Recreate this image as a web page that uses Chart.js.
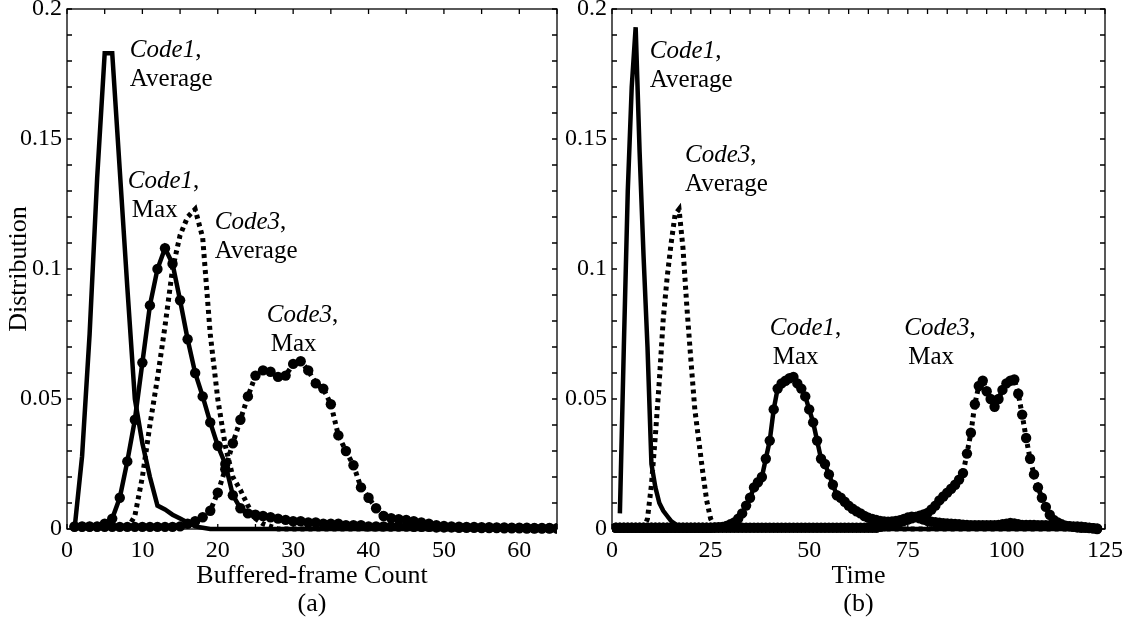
<!DOCTYPE html>
<html>
<head>
<meta charset="utf-8">
<script src="https://cdn.jsdelivr.net/npm/chart.js@4.4.0/dist/chart.umd.min.js"></script>
<style>
body { margin:0; background:#fff; }
#wrap { position:relative; width:1129px; height:621px; overflow:hidden; }
canvas { position:absolute; top:0; }
#cA { left:0; }
#cB { left:565px; }
</style>
</head>
<body>
<div id="wrap">
<canvas id="cA" width="565" height="621"></canvas>
<canvas id="cB" width="564" height="621"></canvas>
</div>
<script>
const FONT = '"Liberation Serif", "Times New Roman", serif';

// (a) buffered-frame count, x = 0..65
const xA = [0,1,2,3,4,5,6,7,8,9,
  10,11,12,13,14,15,16,17,18,19,
  20,21,22,23,24,25,26,27,28,29,
  30,31,32,33,34,35,36,37,38,39,
  40,41,42,43,44,45,46,47,48,49,
  50,51,52,53,54,55,56,57,58,59,
  60,61,62,63,64,65];

const code1AvgA = [null,0,0.028,0.075,0.135,0.183,0.183,0.138,0.093,0.05,
  0.033,0.02,0.009,0.0075,0.0055,0.004,0.0025,0.001,0.0005,0,
  0,0,0,0,0,0,0,0,0,0,
  0,0,0,0,0,0,0,0,0,0,
  0,0,0,0,0,0,0,0,0,0,
  0,0,0,0,0,0,0,0,0,0,
  0,0,0,0,0,0];

const code1MaxA = [null,0.001,0.001,0.001,0.001,0.002,0.004,0.012,0.026,0.042,
  0.064,0.086,0.1,0.108,0.102,0.088,0.073,0.06,0.051,0.041,
  0.032,0.025,0.013,0.008,0.006,0.0055,0.005,0.0045,0.004,0.0035,
  0.003,0.003,0.0025,0.0025,0.002,0.002,0.002,0.0015,0.0015,0.0015,
  0.001,0.001,0.001,0.001,0.001,0.001,0.0008,0.0008,0.0008,0.0006,
  0.0006,0.0006,0.0005,0.0005,0.0005,0.0004,0.0004,0.0004,0.0003,0.0003,
  0.0003,0.0002,0.0002,0.0002,0.0002,0.0002];

const code3AvgA = [null,null,null,null,null,null,null,null,0,0.005,
  0.02,0.04,0.058,0.078,0.1,0.113,0.12,0.123,0.112,0.075,
  0.05,0.032,0.02,0.015,0.009,0.004,0.002,0.001,0,0,
  0,0,0,0,0,0,0,0,0,0,
  0,0,0,0,0,0,0,0,0,0,
  0,0,0,0,0,0,0,0,0,0,
  0,0,0,0,0,0];

const code3MaxA = [null,0.0008,0.0008,0.0008,0.0008,0.0008,0.0008,0.0008,0.0008,0.0008,
  0.0008,0.0008,0.0008,0.0008,0.0008,0.001,0.002,0.003,0.0045,0.007,
  0.014,0.023,0.033,0.042,0.051,0.059,0.061,0.0605,0.0585,0.059,
  0.0635,0.0645,0.061,0.056,0.054,0.048,0.036,0.03,0.0245,0.016,
  0.012,0.008,0.005,0.0042,0.0038,0.0035,0.003,0.0025,0.002,0.0015,
  0.0012,0.001,0.0009,0.0008,0.0008,0.0007,0.0007,0.0006,0.0006,0.0005,
  0.0005,0.0005,0.0004,0.0004,0.0004,0.0003];

// (b) time, x = 0..123
const xB = [0,1,2,3,4,5,6,7,8,9,
  10,11,12,13,14,15,16,17,18,19,
  20,21,22,23,24,25,26,27,28,29,
  30,31,32,33,34,35,36,37,38,39,
  40,41,42,43,44,45,46,47,48,49,
  50,51,52,53,54,55,56,57,58,59,
  60,61,62,63,64,65,66,67,68,69,
  70,71,72,73,74,75,76,77,78,79,
  80,81,82,83,84,85,86,87,88,89,
  90,91,92,93,94,95,96,97,98,99,
  100,101,102,103,104,105,106,107,108,109,
  110,111,112,113,114,115,116,117,118,119,
  120,121,122,123];

const code1AvgB = [null,null,0.006,0.07,0.13,0.17,0.193,0.145,0.105,0.07,
  0.025,0.016,0.01,0.007,0.005,0.003,0.002,0.001,0,0,
  0,0,0,0,0,0,0,0,0,0,
  0,0,0,0,0,0,0,0,0,0,
  0,0,0,0,0,0,0,0,0,0,
  0,0,0,0,0,0,0,0,0,0,
  0,0,0,0,0,0,0,0,0,0,
  0,0,0,0,0,0,0,0,0,0,
  0,0,0,0,0,0,0,0,0,0,
  0,0,0,0,0,0,0,0,0,0,
  0,0,0,0,0,0,0,0,0,0,
  0,0,0,0,0,0,0,0,0,0,
  0,0,0,0];

const code3AvgB = [null,null,null,null,null,null,null,null,0,0.004,
  0.017,0.036,0.057,0.081,0.097,0.11,0.121,0.123,0.108,0.085,
  0.065,0.046,0.034,0.022,0.011,0.004,0.001,0,0,0,
  0,0,0,0,0,0,0,0,0,0,
  0,0,0,0,0,0,0,0,0,0,
  0,0,0,0,0,0,0,0,0,0,
  0,0,0,0,0,0,0,0,0,0,
  0,0,0,0,0,0,0,0,0,0,
  0,0,0,0,0,0,0,0,0,0,
  0,0,0,0,0,0,0,0,0,0,
  0,0,0,0,0,0,0,0,0,0,
  0,0,0,0,0,0,0,0,0,0,
  0,0,0,0];

const code1MaxB = [null,0.0005,0.0005,0.0005,0.0005,0.0005,0.0005,0.0005,0.0005,0.0005,
  0.0005,0.0005,0.0005,0.0005,0.0005,0.0005,0.0005,0.0005,0.0005,0.0005,
  0.0005,0.0005,0.0005,0.0005,0.0005,0.0005,0.0006,0.0007,0.0008,0.0012,
  0.0018,0.0025,0.004,0.006,0.009,0.012,0.016,0.018,0.02,0.027,
  0.034,0.046,0.054,0.056,0.057,0.058,0.0585,0.056,0.054,0.051,
  0.046,0.041,0.034,0.027,0.025,0.021,0.017,0.013,0.012,0.0105,
  0.009,0.0078,0.0068,0.006,0.005,0.0043,0.0039,0.0035,0.0031,0.0029,
  0.0028,0.0029,0.0031,0.0034,0.0039,0.0044,0.0047,0.0046,0.0041,0.0036,
  0.0031,0.0028,0.0026,0.0024,0.0022,0.0021,0.002,0.0019,0.0018,0.0017,
  0.0016,0.0015,0.0015,0.0015,0.0015,0.0015,0.0015,0.0015,0.0016,0.0018,
  0.002,0.0023,0.0021,0.0018,0.0016,0.0016,0.0016,0.0016,0.0015,0.0015,
  0.0015,0.0014,0.0013,0.0012,0.0012,0.0011,0.0011,0.001,0.001,0.0009,
  0.0007,0.0005,0.0003,0];

const code3MaxB = [null,0.0005,0.0005,0.0005,0.0005,0.0005,0.0005,0.0005,0.0005,0.0005,
  0.0005,0.0005,0.0005,0.0005,0.0005,0.0005,0.0005,0.0005,0.0005,0.0005,
  0.0005,0.0005,0.0005,0.0005,0.0005,0.0005,0.0005,0.0005,0.0005,0.0005,
  0.0005,0.0005,0.0005,0.0005,0.0005,0.0005,0.0005,0.0005,0.0005,0.0005,
  0.0005,0.0005,0.0005,0.0005,0.0005,0.0005,0.0005,0.0005,0.0005,0.0005,
  0.0005,0.0005,0.0005,0.0005,0.0005,0.0005,0.0005,0.0005,0.0005,0.0005,
  0.0005,0.0005,0.0005,0.0005,0.0005,0.0005,0.0005,0.0005,0.0008,0.001,
  0.0013,0.0017,0.0021,0.0026,0.0031,0.0036,0.0041,0.0046,0.0051,0.0056,
  0.0062,0.0075,0.009,0.011,0.0125,0.014,0.0155,0.017,0.019,0.0215,
  0.029,0.037,0.048,0.055,0.057,0.053,0.05,0.047,0.05,0.0535,
  0.056,0.057,0.0575,0.052,0.044,0.035,0.027,0.021,0.016,0.012,
  0.0085,0.0055,0.0035,0.0025,0.0018,0.0013,0.001,0.0008,0.0006,0.0005,
  0.0005,0.0004,0.0003,0.0002];

const yTicksMax = 0.2;

// labels placed next to the curves, in data units
const notesA = [
  { x: 8.34, y: 0.1842, code: 'Code1', kind: 'Average' },
  { x: 8.07, y: 0.1335, code: 'Code1', kind: 'Max', indent: 4 },
  { x: 19.6, y: 0.118, code: 'Code3', kind: 'Average' },
  { x: 26.5, y: 0.0823, code: 'Code3', kind: 'Max', indent: 4 }
];
const notesB = [
  { x: 9.6, y: 0.1835, code: 'Code1', kind: 'Average' },
  { x: 18.5, y: 0.1438, code: 'Code3', kind: 'Average' },
  { x: 40, y: 0.0773, code: 'Code1', kind: 'Max', indent: 3 },
  { x: 74.1, y: 0.0773, code: 'Code3', kind: 'Max', indent: 4 }
];

const framePlugin = {
  id: 'frame',
  afterDraw(chart, args, opts) {
    const { ctx, chartArea: a } = chart;
    const sx = chart.scales.x, sy = chart.scales.y;
    ctx.save();
    ctx.strokeStyle = '#000';
    ctx.lineWidth = 1.3;
    ctx.beginPath();
    for (let i = 0; i * 5 <= sx.max; i++) {
      const px = sx.getPixelForValue(i * 5);
      ctx.moveTo(px, a.bottom); ctx.lineTo(px, a.bottom - 5);
      ctx.moveTo(px, a.top); ctx.lineTo(px, a.top + 5);
    }
    for (let i = 0; i <= 20; i++) {
      const py = sy.getPixelForValue(i * 0.01);
      ctx.moveTo(a.left, py); ctx.lineTo(a.left + 5, py);
      ctx.moveTo(a.right, py); ctx.lineTo(a.right - 5, py);
    }
    ctx.stroke();
    ctx.strokeRect(a.left, a.top, a.right - a.left, a.bottom - a.top);

    ctx.fillStyle = '#000';
    ctx.textBaseline = 'middle';
    ctx.textAlign = 'left';
    opts.notes.forEach(n => {
      const px = sx.getPixelForValue(n.x), py = sy.getPixelForValue(n.y);
      ctx.font = 'italic 25px ' + FONT;
      ctx.fillText(n.code, px, py);
      const w = ctx.measureText(n.code).width;
      ctx.font = '25px ' + FONT;
      ctx.fillText(',', px + w, py);
      ctx.fillText(n.kind, px + (n.indent || 0), py + 29);
    });
    ctx.restore();
  }
};

function series(label, xs, ys, dotted, markers) {
  return {
    label,
    data: xs.map((x, i) => ({ x, y: ys[i] })),
    borderColor: '#000',
    backgroundColor: '#000',
    borderWidth: dotted ? 5 : 4.5,
    borderDash: dotted ? [4, 4] : [],
    borderCapStyle: 'butt',
    pointRadius: markers ? 5.2 : 0,
    pointBorderWidth: 0,
    pointBackgroundColor: '#000',
    tension: 0,
    clip: { left: 0, top: 0, right: 0, bottom: 6 }
  };
}

function panel(id, datasets, xMax, xStep, xTitle, yTitle, yWidth, rightPad, notes) {
  return new Chart(document.getElementById(id), {
    type: 'line',
    data: { datasets },
    options: {
      responsive: false,
      animation: false,
      events: [],
      layout: { padding: { top: 9, right: rightPad, bottom: 0, left: 0 } },
      plugins: {
        legend: { display: false },
        tooltip: { enabled: false },
        frame: { notes }
      },
      scales: {
        x: {
          type: 'linear', min: 0, max: xMax,
          grid: { display: false, drawTicks: false },
          border: { display: false },
          ticks: { stepSize: xStep, includeBounds: false, maxRotation: 0, autoSkip: false,
                   color: '#000', font: { family: FONT, size: 24 }, padding: 7 },
          title: { display: true, text: xTitle, color: '#000',
                   font: { family: FONT, size: 26, lineHeight: 1.08 }, padding: { top: 0, bottom: 3 } },
          afterFit: s => { s.height = 92; s.paddingLeft = 0; s.paddingRight = 0; }
        },
        y: {
          min: 0, max: yTicksMax,
          grid: { display: false, drawTicks: false },
          border: { display: false },
          ticks: { stepSize: 0.05, color: '#000', font: { family: FONT, size: 24 }, padding: 5,
                   callback: v => String(+v.toFixed(2)) },
          title: { display: !!yTitle, text: yTitle, color: '#000',
                   font: { family: FONT, size: 26, lineHeight: 1.08 }, padding: { top: 5, bottom: 0 } },
          afterFit: s => { s.width = yWidth; s.paddingTop = 0; s.paddingBottom = 0; }
        }
      }
    },
    plugins: [framePlugin]
  });
}

panel('cA', [
  series('Code1, Average', xA, code1AvgA, false, false),
  series('Code1, Max', xA, code1MaxA, false, true),
  series('Code3, Average', xA, code3AvgA, true, false),
  series('Code3, Max', xA, code3MaxA, true, true)
], 65, 10, ['Buffered-frame Count', '(a)'], 'Distribution', 67, 8, notesA);

panel('cB', [
  series('Code1, Average', xB, code1AvgB, false, false),
  series('Code1, Max', xB, code1MaxB, false, true),
  series('Code3, Average', xB, code3AvgB, true, false),
  series('Code3, Max', xB, code3MaxB, true, true)
], 125, 25, ['Time', '(b)'], '', 47, 24, notesB);
</script>
</body>
</html>
